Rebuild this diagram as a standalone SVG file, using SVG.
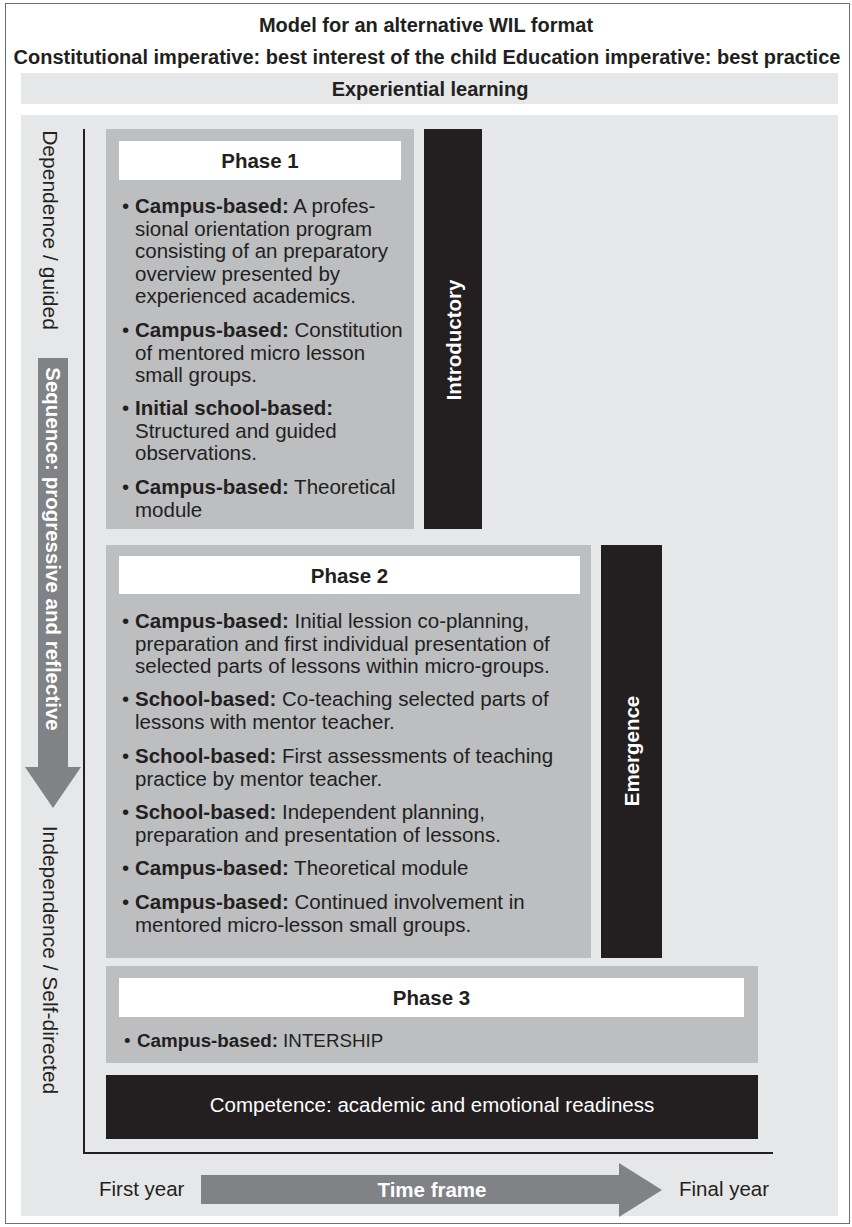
<svg xmlns="http://www.w3.org/2000/svg" width="852" height="1227" viewBox="0 0 852 1227">
<style>
text{font-family:"Liberation Sans",Arial,sans-serif;font-size:20.5px;fill:#231f20}
.b{font-weight:bold}
.w{fill:#ffffff}
.c{text-anchor:middle}
.h{font-size:20px}
.side{font-size:21px}
.p3{font-size:18.8px}
.panel{fill:#e6e7e8}
.box{fill:#bcbec0}
.hdr{fill:#ffffff}
.dark{fill:#231f20}
.arr{fill:#808285}
.axis{stroke:#231f20;stroke-width:2;fill:none}
</style>
<rect x="5.5" y="3.5" width="844" height="1220" fill="#ffffff" stroke="#6d6e71" stroke-width="1"/>
<g id="title">
<text class="b c h" x="426" y="32">Model for an alternative WIL format</text>
<text class="b c h" x="427" y="64">Constitutional imperative: best interest of the child Education imperative: best practice</text>
</g>
<g id="experiential">
<rect class="panel" x="21" y="73" width="817" height="31"/>
<text class="b c h" x="430" y="96">Experiential learning</text>
</g>
<rect id="main-panel" class="panel" x="21" y="115" width="817" height="1101"/>
<g id="labels-left">
<text class="c side" transform="translate(50,230) rotate(90)" dominant-baseline="central">Dependence / guided</text>
<text class="c side" transform="translate(50,960) rotate(90)" dominant-baseline="central">Independence / Self-directed</text>
</g>
<g id="sequence-arrow">
<polygon class="arr" points="38,358 68,358 68,767 81,767 53,808 25,767 38,767"/>
<text class="b w c" transform="translate(53,549) rotate(90)" dominant-baseline="central">Sequence: progressive and reflective</text>
</g>
<g id="connectors">
<polyline class="axis" points="84,129 84,1153 773,1153"/>
</g>
<g id="phase1">
<rect class="box" x="106" y="129" width="308" height="400"/>
<rect class="hdr" x="119" y="141" width="282" height="39"/>
<text class="b c" x="260" y="168">Phase 1</text>
<text x="122" y="213">•</text><text x="135" y="213"><tspan class="b">Campus-based:</tspan> A profes-</text>
<text x="135" y="235.5">sional orientation program</text>
<text x="135" y="258">consisting of an preparatory</text>
<text x="135" y="280.5">overview presented by</text>
<text x="135" y="303">experienced academics.</text>
<text x="122" y="337">•</text><text x="135" y="337"><tspan class="b">Campus-based:</tspan> Constitution</text>
<text x="135" y="359.5">of mentored micro lesson</text>
<text x="135" y="382">small groups.</text>
<text x="122" y="415">•</text><text x="135" y="415"><tspan class="b">Initial school-based:</tspan></text>
<text x="135" y="437.5">Structured and guided</text>
<text x="135" y="460">observations.</text>
<text x="122" y="494">•</text><text x="135" y="494"><tspan class="b">Campus-based:</tspan> Theoretical</text>
<text x="135" y="516.5">module</text>
</g>
<g id="introductory">
<rect class="dark" x="424" y="129" width="58" height="400"/>
<text class="b w c" transform="translate(453,340) rotate(-90)" dominant-baseline="central">Introductory</text>
</g>
<g id="phase2">
<rect class="box" x="106" y="545" width="485" height="413"/>
<rect class="hdr" x="119" y="556" width="461" height="38"/>
<text class="b c" x="349.5" y="583">Phase 2</text>
<text x="122" y="628">•</text><text x="135" y="628"><tspan class="b">Campus-based:</tspan> Initial lession co-planning,</text>
<text x="135" y="650.5">preparation and first individual presentation of</text>
<text x="135" y="673">selected parts of lessons within micro-groups.</text>
<text x="122" y="706">•</text><text x="135" y="706"><tspan class="b">School-based:</tspan> Co-teaching selected parts of</text>
<text x="135" y="729">lessons with mentor teacher.</text>
<text x="122" y="763">•</text><text x="135" y="763"><tspan class="b">School-based:</tspan> First assessments of teaching</text>
<text x="135" y="786">practice by mentor teacher.</text>
<text x="122" y="819">•</text><text x="135" y="819"><tspan class="b">School-based:</tspan> Independent planning,</text>
<text x="135" y="842">preparation and presentation of lessons.</text>
<text x="122" y="875">•</text><text x="135" y="875"><tspan class="b">Campus-based:</tspan> Theoretical module</text>
<text x="122" y="909">•</text><text x="135" y="909"><tspan class="b">Campus-based:</tspan> Continued involvement in</text>
<text x="135" y="932">mentored micro-lesson small groups.</text>
</g>
<g id="emergence">
<rect class="dark" x="601" y="545" width="61" height="413"/>
<text class="b w c" transform="translate(631.5,751) rotate(-90)" dominant-baseline="central">Emergence</text>
</g>
<g id="phase3">
<rect class="box" x="106" y="966" width="652" height="97"/>
<rect class="hdr" x="119" y="978" width="625" height="39"/>
<text class="b c" x="431.5" y="1005">Phase 3</text>
<text class="p3" x="124" y="1047">•</text><text class="p3" x="137" y="1047"><tspan class="b">Campus-based:</tspan> INTERSHIP</text>
</g>
<g id="competence">
<rect class="dark" x="106" y="1075" width="652" height="64"/>
<text class="w c" x="432" y="1112">Competence: academic and emotional readiness</text>
</g>
<g id="timeframe">
<text x="99" y="1196">First year</text>
<polygon class="arr" points="201,1175 619,1175 619,1163 662,1190 619,1217 619,1204 201,1204"/>
<text class="b w c" x="432" y="1197">Time frame</text>
<text x="679" y="1196">Final year</text>
</g>
</svg>
